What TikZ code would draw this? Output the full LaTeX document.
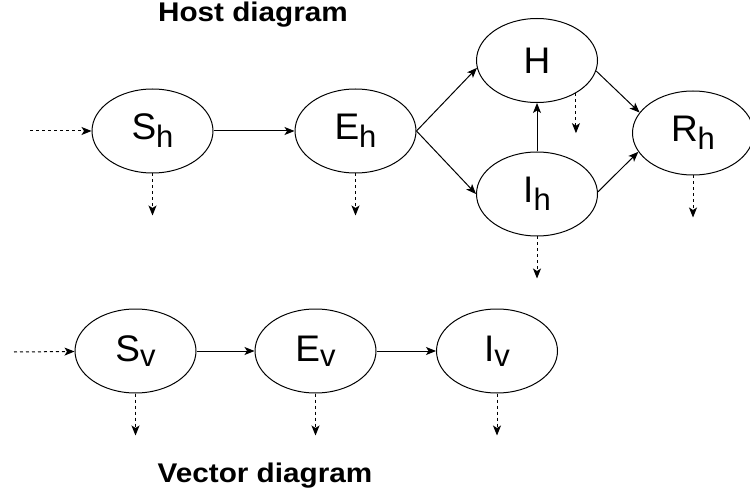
\documentclass[tikz,border=0pt]{standalone}
\usepackage{fontspec}
\setmainfont{Liberation Sans}
\newfontfamily\titlefont[FakeStretch=1.1]{Liberation Sans}
\usetikzlibrary{%
        arrows.meta,
        shapes.geometric
    }
\newcommand{\compsub}[2][8pt]{\raisebox{-#1}{\fontsize{31}{31}\selectfont #2}}
\tikzset{%
    compartment/.style={%
        draw, ellipse, minimum width=121pt, minimum height=84pt,
        inner sep=0pt, font=\fontsize{37}{40}\selectfont
    },
    flow/.style={-{Stealth[length=10pt, width=8pt, inset=2.5pt]}},
    migration/.style={flow, dash pattern=on 3pt off 3pt},
    heading/.style={%
        anchor=base, font=\titlefont\bfseries\fontsize{27}{30}\selectfont
    }
}

\begin{document}
\begin{tikzpicture}[x=1pt, y=-1pt, line width=1pt]

    \useasboundingbox (0, 0) rectangle (750, 497);

    %%%%%%%%%%%%
    % Host
    \node[heading] (host-title) at (253, 22) {Host diagram};

    \node[compartment] (sh) at (152.5, 131) {S\compsub{h}};
    \node[compartment] (eh) at (355.5, 131) {E\compsub{h}};
    \node[compartment] (hh) at (537, 60.5) {H};
    \node[compartment] (ih) at (537, 194) {I\compsub{h}};
    \node[compartment] (rh) at (693, 133) {R\compsub{h}};

    %%%%%%%%%%%%
    % Vector
    \node[heading] (vector-title) at (265, 482) {Vector diagram};

    \foreach \name/\x/\lab in {sv/135.5/S, ev/315.5/E, iv/497/I}{%
        \node[compartment] (\name) at (\x, 351) {\lab\compsub[5pt]{v}};
    };

    % Recruitment
    \coordinate (sh-in) at (30, 131);
    \coordinate (sv-in) at (14, 352);
    \draw[migration] (sh-in) -- (sh);
    \draw[migration] (sv-in) -- (sv);

    % Deaths
    \foreach \name in {sh, eh, ih, rh, sv, ev, iv}{%
        \draw[migration] (\name.south) -- ++(0, 42);
    };
    \draw[migration] (hh.-40) -- ++(0, 40);

    % Transitions
    \draw[flow] (sh) -- (eh);
    \draw[flow] (eh.east) -- (hh.187);
    \draw[flow] (eh.east) -- (ih.west);
    \draw[flow] (ih) -- (hh);
    \draw[flow] (hh.-10) -- (rh.159);
    \draw[flow] (ih.2) -- (rh.199);
    \draw[flow] (sv) -- (ev);
    \draw[flow] (ev) -- (iv);

\end{tikzpicture}
\end{document}
